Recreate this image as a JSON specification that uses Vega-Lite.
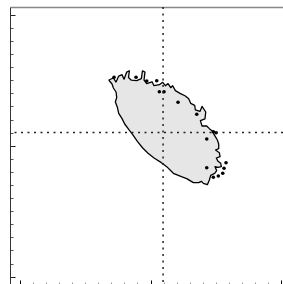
{
  "$schema": "https://vega.github.io/schema/vega-lite/v6.json",
  "autosize": "none",
  "padding": {"left": 10, "top": 7, "right": 0, "bottom": 0},
  "width": 273,
  "height": 277,
  "background": "white",
  "config": {"view": {"stroke": null}},
  "datasets": {
    "poly": [
      {"i": 1, "x": -3.206, "y": 5.017}, {"i": 2, "x": -2.848, "y": 5.169}, {"i": 3, "x": -2.644, "y": 4.86},
      {"i": 4, "x": -2.44, "y": 5.32}, {"i": 5, "x": -2.184, "y": 5.42}, {"i": 6, "x": -2.031, "y": 5.08},
      {"i": 7, "x": -1.827, "y": 5.62}, {"i": 8, "x": -1.622, "y": 5.72}, {"i": 9, "x": -1.69, "y": 5.2},
      {"i": 10, "x": -1.469, "y": 5.0}, {"i": 11, "x": -1.06, "y": 4.966}, {"i": 12, "x": -0.703, "y": 5.118},
      {"i": 13, "x": -0.62, "y": 5.72}, {"i": 14, "x": -0.43, "y": 5.62}, {"i": 15, "x": -0.499, "y": 5.0},
      {"i": 16, "x": -0.294, "y": 4.74}, {"i": 17, "x": 0.115, "y": 4.88}, {"i": 18, "x": 0.268, "y": 4.58},
      {"i": 19, "x": 0.676, "y": 4.66}, {"i": 20, "x": 0.932, "y": 4.84}, {"i": 21, "x": 1.136, "y": 4.58},
      {"i": 22, "x": 1.341, "y": 4.74}, {"i": 23, "x": 1.545, "y": 4.43}, {"i": 24, "x": 1.698, "y": 4.58},
      {"i": 25, "x": 1.903, "y": 4.202}, {"i": 26, "x": 2.26, "y": 3.998}, {"i": 27, "x": 2.669, "y": 3.795},
      {"i": 28, "x": 2.924, "y": 3.591}, {"i": 29, "x": 3.077, "y": 3.235}, {"i": 30, "x": 3.384, "y": 3.082},
      {"i": 31, "x": 3.435, "y": 2.726}, {"i": 32, "x": 3.793, "y": 2.624}, {"i": 33, "x": 3.946, "y": 3.0},
      {"i": 34, "x": 4.23, "y": 2.573}, {"i": 35, "x": 4.17, "y": 2.05}, {"i": 36, "x": 3.82, "y": 1.911},
      {"i": 37, "x": 3.946, "y": 1.504}, {"i": 38, "x": 4.304, "y": 1.504}, {"i": 39, "x": 4.508, "y": 1.301},
      {"i": 40, "x": 4.712, "y": 1.148}, {"i": 41, "x": 4.814, "y": 0.944}, {"i": 42, "x": 4.968, "y": 0.69},
      {"i": 43, "x": 5.121, "y": 0.435}, {"i": 44, "x": 5.223, "y": 0.13}, {"i": 45, "x": 5.223, "y": -0.227},
      {"i": 46, "x": 4.98, "y": -0.328}, {"i": 47, "x": 5.274, "y": -0.532}, {"i": 48, "x": 5.325, "y": -0.837},
      {"i": 49, "x": 5.04, "y": -0.939}, {"i": 50, "x": 5.172, "y": -1.194}, {"i": 51, "x": 5.376, "y": -1.346},
      {"i": 52, "x": 5.427, "y": -1.601}, {"i": 53, "x": 5.172, "y": -1.652}, {"i": 54, "x": 4.94, "y": -1.601},
      {"i": 55, "x": 5.07, "y": -1.906}, {"i": 56, "x": 4.917, "y": -2.11}, {"i": 57, "x": 4.61, "y": -2.263},
      {"i": 58, "x": 4.508, "y": -2.619}, {"i": 59, "x": 4.355, "y": -2.975}, {"i": 60, "x": 4.048, "y": -2.874},
      {"i": 61, "x": 3.895, "y": -2.721}, {"i": 62, "x": 3.691, "y": -2.823}, {"i": 63, "x": 3.282, "y": -2.823},
      {"i": 64, "x": 2.771, "y": -2.517}, {"i": 65, "x": 2.362, "y": -2.364}, {"i": 66, "x": 1.749, "y": -2.11},
      {"i": 67, "x": 1.238, "y": -1.601}, {"i": 68, "x": 0.83, "y": -1.295}, {"i": 69, "x": 0.268, "y": -0.939},
      {"i": 70, "x": -0.192, "y": -0.583}, {"i": 71, "x": -0.601, "y": -0.176}, {"i": 72, "x": -1.009, "y": 0.333},
      {"i": 73, "x": -1.367, "y": 0.842}, {"i": 74, "x": -1.673, "y": 1.25}, {"i": 75, "x": -1.98, "y": 1.657},
      {"i": 76, "x": -2.184, "y": 2.064}, {"i": 77, "x": -2.44, "y": 2.471}, {"i": 78, "x": -2.542, "y": 2.93},
      {"i": 79, "x": -2.695, "y": 3.337}, {"i": 80, "x": -2.593, "y": 3.693}, {"i": 81, "x": -2.644, "y": 4.1},
      {"i": 82, "x": -2.848, "y": 4.406}, {"i": 83, "x": -2.951, "y": 4.711}, {"i": 84, "x": -3.206, "y": 5.017}
    ],
    "dots": [
      {"x": -2.797, "y": 5.223}, {"x": -1.111, "y": 5.223}, {"x": -0.291, "y": 4.94}, {"x": 0.475, "y": 4.963},
      {"x": 0.674, "y": 4.123}, {"x": 1.034, "y": 4.123}, {"x": 2.107, "y": 3.314}, {"x": 3.54, "y": 2.397},
      {"x": 4.812, "y": 1.069}, {"x": 5.019, "y": 0.993}, {"x": 4.307, "y": 0.512}, {"x": 5.785, "y": -1.298},
      {"x": 4.307, "y": -1.68}, {"x": 5.632, "y": -1.726}, {"x": 5.533, "y": -2.107}, {"x": 4.812, "y": -2.413},
      {"x": 5.195, "y": -2.314}
    ]
  },
  "layer": [
    {
      "data": {"name": "poly"},
      "mark": {"type": "line", "fill": "#e6e6e6", "stroke": "black", "strokeWidth": 1.3, "strokeJoin": "round"},
      "encoding": {
        "order": {"field": "i", "type": "quantitative"},
        "x": {"field": "x", "type": "quantitative",
          "scale": {"domain": [-10.77, 10.15], "nice": false, "zero": false},
          "axis": {"orient": "bottom", "values": [-10,-9,-8,-7,-6,-5,-4,-3,-2,-1,0,1,2,3,4,5,6,7,8,9,10], "tickSize": -2, "tickColor": "#999999", "domain": false, "labels": false, "grid": false, "title": null}},
        "y": {"field": "y", "type": "quantitative",
          "scale": {"domain": [-10.56, 10.59], "nice": false, "zero": false},
          "axis": {"orient": "left", "values": [-10,-9,-8,-7,-6,-5,-4,-3,-2,-1,0,1,2,3,4,5,6,7,8,9,10], "tickSize": -3, "tickColor": "#555555", "domain": false, "labels": false, "grid": false, "title": null}}
      }
    },
    {
      "data": {"name": "dots"},
      "mark": {"type": "point", "filled": true, "shape": "circle", "size": 13, "color": "black", "opacity": 1},
      "encoding": {
        "x": {"field": "x", "type": "quantitative",
          "axis": {"orient": "bottom", "values": [-10, 0, 10], "tickSize": -4, "tickColor": "black", "domain": false, "labels": false, "grid": false, "title": null}},
        "y": {"field": "y", "type": "quantitative",
          "axis": {"orient": "left", "values": [-10, 0, 10], "tickSize": -5, "tickColor": "#222222", "domain": true, "domainColor": "#333333", "domainWidth": 1, "labels": false, "grid": false, "title": null}}
      }
    },
    {
      "data": {"values": [{"x": 0.96}]},
      "mark": {"type": "rule", "color": "#222222", "strokeWidth": 1.5, "strokeDash": [2, 4.5]},
      "encoding": {
        "x": {"field": "x", "type": "quantitative",
          "axis": {"orient": "top", "domain": true, "domainColor": "#888888", "domainWidth": 1.5, "ticks": false, "labels": false, "grid": false, "title": null}}
      }
    },
    {
      "data": {"values": [{"y": 1.0}]},
      "mark": {"type": "rule", "color": "#222222", "strokeWidth": 1.5, "strokeDash": [2, 4.5]},
      "encoding": {
        "y": {"field": "y", "type": "quantitative", "axis": null}
      }
    }
  ],
  "resolve": {"axis": {"x": "independent", "y": "independent"}}
}
